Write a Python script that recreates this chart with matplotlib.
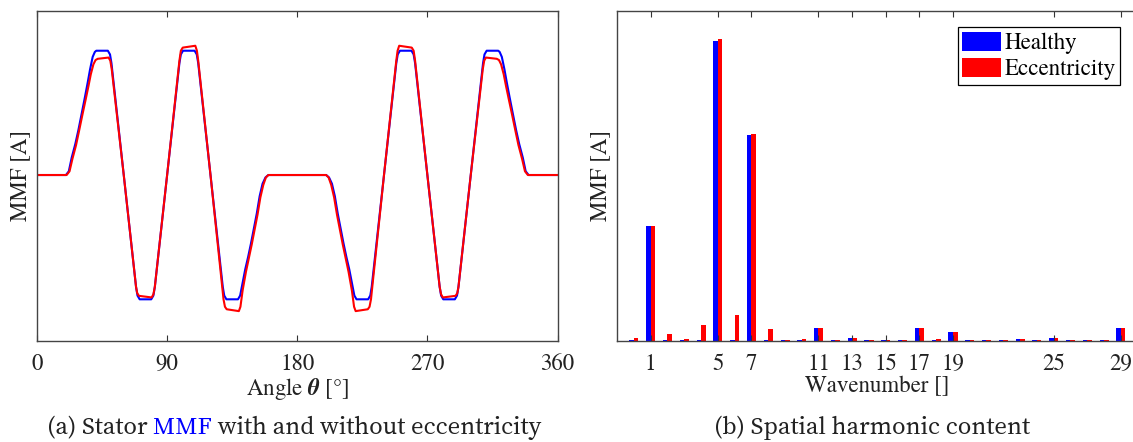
import matplotlib
matplotlib.use('Agg')
import matplotlib.pyplot as plt
import numpy as np

# ---- (a) stator MMF vs angle ----
angle_healthy = [0, 20, 22, 24, 26.5, 28.6, 31, 33.2, 35, 36.7, 38.5, 40, 41,
                 49, 50.5, 51.5, 60, 68.5, 69.5, 71,
                 79, 80.5, 81.5, 90, 98.5, 99.5, 101,
                 109, 110.5, 111.5, 120, 128.5, 129.5, 131,
                 139, 140.5, 142, 144, 146, 148, 150, 152, 154, 156, 158, 160,
                 180, 200,
                 202, 204, 206, 208, 210, 212, 214, 216, 218, 219.5, 221,
                 229, 230.5, 231.5, 240, 248.5, 249.5, 251,
                 259, 260.5, 261.5, 270, 278.5, 279.5, 281,
                 289, 290.5, 291.5, 300, 308.5, 309.5, 311,
                 319, 320, 321.5, 323.3, 325, 326.8, 329, 331.4, 333.5, 336, 338, 340,
                 360]
mmf_healthy = [0, 0, 0.03, 0.14, 0.25, 0.36, 0.5, 0.63, 0.74, 0.85, 0.95, 0.99, 1.0,
               1.0, 0.97, 0.9, 0, -0.9, -0.97, -1.0,
               -1.0, -0.97, -0.9, 0, 0.9, 0.97, 1.0,
               1.0, 0.97, 0.9, 0, -0.9, -0.97, -1.0,
               -1.0, -0.97, -0.88, -0.76, -0.66, -0.55, -0.43, -0.31, -0.17, -0.07, -0.02, 0,
               0, 0,
               -0.02, -0.07, -0.17, -0.31, -0.43, -0.55, -0.66, -0.76, -0.88, -0.97, -1.0,
               -1.0, -0.97, -0.9, 0, 0.9, 0.97, 1.0,
               1.0, 0.97, 0.9, 0, -0.9, -0.97, -1.0,
               -1.0, -0.97, -0.9, 0, 0.9, 0.97, 1.0,
               1.0, 0.99, 0.95, 0.85, 0.74, 0.63, 0.5, 0.36, 0.25, 0.14, 0.03, 0,
               0]

angle_ecc = [0, 20.5, 22.5, 24.5, 27, 29, 31.5, 33.7, 35.5, 37.2, 39, 40.5, 42,
             49.5, 50.7, 51.7, 60, 68.5, 69.3, 70.5,
             79.3, 80.5, 81.5, 90, 98.5, 99.5, 100.8,
             109.5, 110.6, 111.5, 120, 129, 130, 131.2,
             139.6, 140.7, 142.2, 144.5, 146.5, 148.5, 150.5, 152.5, 154.5, 156.5, 158.3, 160,
             180, 200,
             201.7, 203.5, 205.5, 207.5, 209.5, 211.5, 213.5, 215.5, 217.8, 219.3, 220.4,
             228.8, 230, 231, 240, 248.5, 249.4, 250.5,
             259.2, 260.5, 261.5, 270, 278.5, 279.5, 280.7,
             289.5, 290.7, 291.5, 300, 308.3, 309.3, 310.5,
             318, 319.5, 321, 322.8, 324.5, 326.3, 328.5, 331, 333, 335.5, 337.5, 339.5,
             360]
mmf_ecc = [0, 0, 0.03, 0.13, 0.24, 0.35, 0.49, 0.61, 0.71, 0.81, 0.89, 0.925, 0.935,
           0.945, 0.92, 0.85, 0, -0.9, -0.95, -0.972,
           -0.985, -0.96, -0.9, 0, 0.92, 1.0, 1.025,
           1.04, 1.0, 0.92, 0, -1.0, -1.06, -1.08,
           -1.095, -1.06, -0.93, -0.78, -0.67, -0.56, -0.44, -0.32, -0.18, -0.08, -0.02, 0,
           0, 0,
           -0.02, -0.08, -0.18, -0.32, -0.44, -0.56, -0.67, -0.78, -0.93, -1.06, -1.095,
           -1.08, -1.06, -1.0, 0, 0.92, 1.0, 1.04,
           1.025, 1.0, 0.92, 0, -0.9, -0.96, -0.985,
           -0.972, -0.95, -0.9, 0, 0.85, 0.92, 0.945,
           0.935, 0.925, 0.89, 0.81, 0.71, 0.61, 0.49, 0.35, 0.24, 0.13, 0.03, 0,
           0]

# ---- (b) spatial harmonic amplitudes (normalised, k = 0..29) ----
wavenumber = list(range(30))
amp_healthy = [0.003, 0.382, 0.002, 0.002, 0.002, 1.0, 0.002, 0.686, 0.002, 0.002,
               0.002, 0.044, 0.002, 0.009, 0.001, 0.001, 0.001, 0.042, 0.001, 0.029,
               0.001, 0.001, 0.001, 0.006, 0.001, 0.009, 0.001, 0.001, 0.001, 0.041]
amp_ecc = [0.008, 0.382, 0.022, 0.006, 0.052, 1.006, 0.086, 0.691, 0.038, 0.004,
           0.006, 0.044, 0.004, 0.009, 0.002, 0.002, 0.004, 0.042, 0.006, 0.029,
           0.003, 0.002, 0.002, 0.006, 0.002, 0.009, 0.002, 0.002, 0.004, 0.041]
wn_ticks = [1, 5, 7, 11, 13, 15, 17, 19, 25, 29]

plt.rcParams['font.family'] = ['TeX Gyre Termes', 'STIXGeneral', 'DejaVu Serif']
plt.rcParams['mathtext.fontset'] = 'stix'
plt.rcParams['font.size'] = 16.5

W, H = 1133, 442
fig = plt.figure(figsize=(W / 100, H / 100), dpi=100)


def px_axes(x0, x1, y0, y1):
    return fig.add_axes([x0 / W, (H - y1) / H, (x1 - x0) / W, (y1 - y0) / H])


def style(ax):
    for s in ax.spines.values():
        s.set_color('#444444')
        s.set_linewidth(1.0)
    ax.tick_params(axis='x', direction='in', top=True, length=4, width=0.8,
                   color='#333333', pad=9, labelsize=16.5, labelcolor='#222222')
    ax.set_yticks([])


# (a)
ax1 = px_axes(37, 557.5, 10.7, 340.7)
ax1.plot(angle_healthy, mmf_healthy, color='#0000ff', lw=1.5, solid_joinstyle='round')
ax1.plot(angle_ecc, mmf_ecc, color='#ff0000', lw=1.5, solid_joinstyle='round')
ax1.set_xlim(0, 360)
ax1.set_ylim(-1.333, 1.322)
ax1.set_xticks([0, 90, 180, 270, 360])
style(ax1)
ax1.set_xlabel(r'Angle $\boldsymbol{\theta}$ [°]', labelpad=1, color='#222222')
ax1.set_ylabel('MMF [A]', labelpad=4, color='#222222')

# (b)
ax2 = px_axes(617, 1137.5, 10.7, 340.7)
k = np.array(wavenumber)
ax2.bar(k - 0.13, amp_healthy, width=0.26, color='#0000ff', label='Healthy')
ax2.bar(k + 0.14, amp_ecc, width=0.28, color='#ff0000', label='Eccentricity')
ax2.set_xlim(-1, 30)
ax2.set_ylim(0, 1.102)
ax2.set_xticks(wn_ticks)
style(ax2)
ax2.set_xlabel('Wavenumber []', labelpad=1, color='#222222')
ax2.set_ylabel('MMF [A]', labelpad=4, color='#222222')
leg = ax2.legend(loc='upper right', bbox_to_anchor=(0.967, 0.950), borderaxespad=0,
                 fontsize=16.5, handlelength=1.7, handleheight=0.9, handletextpad=0.15,
                 borderpad=0.2, labelspacing=0.15, fancybox=False, framealpha=1)
leg.get_frame().set_edgecolor('black')
leg.get_frame().set_linewidth(0.9)

# captions
cap_font = dict(fontfamily='Source Serif 4', fontsize=17.8)
y_cap = (H - 434.3) / H
t = fig.text(46.7 / W, y_cap, '(a) Stator', color='#222222', va='baseline', **cap_font)
t = ax1.annotate(' MMF', xy=(1, 0), xycoords=t, va='bottom', color='#0000ff',
                 annotation_clip=False, **cap_font)
ax1.annotate(' with and without eccentricity', xy=(1, 0), xycoords=t, va='bottom',
             color='#222222', annotation_clip=False, **cap_font)
fig.text(714 / W, y_cap, '(b) Spatial harmonic content', color='#222222',
         va='baseline', **cap_font)

fig.savefig('out.png', dpi=100)
